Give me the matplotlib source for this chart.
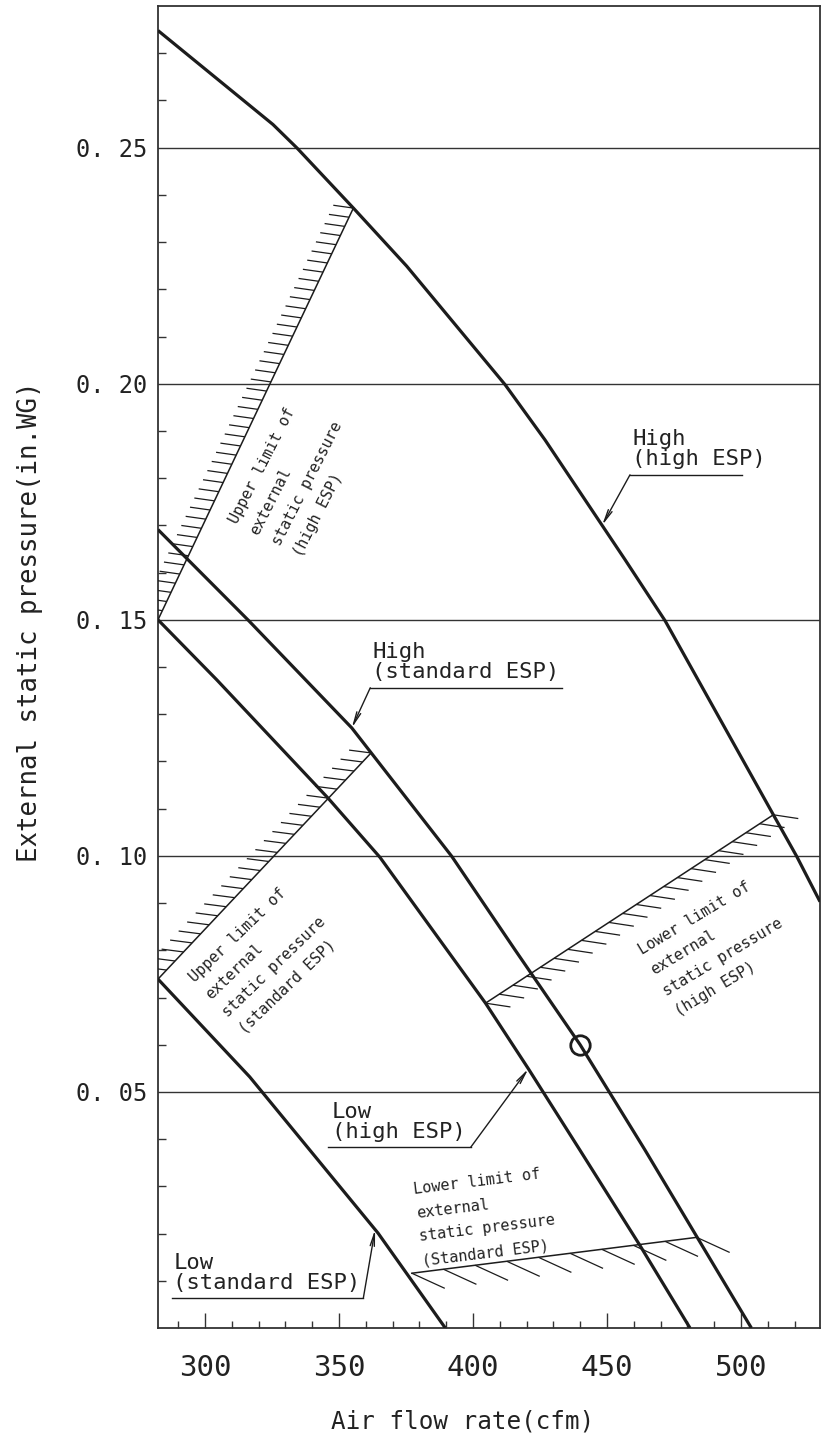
import numpy as np
import matplotlib.pyplot as plt
from matplotlib.collections import LineCollection

plt.rcParams['font.family'] = ['DejaVu Sans Mono']

# fan curves: air flow (cfm) against external static pressure (in.WG)
hi_hi_x = [282.5, 325.4, 334.4, 355.4, 375.3, 412.0, 426.9, 456.8, 471.7, 512.1, 520.8, 529.5]
hi_hi_y = [0.2748, 0.2549, 0.2499, 0.2372, 0.2249, 0.1998, 0.1881, 0.1627, 0.1498, 0.1087, 0.0999, 0.0903]

hi_std_x = [282.5, 316.2, 354.8, 392.1, 415.7, 440.0, 464.2, 503.9]
hi_std_y = [0.1691, 0.1499, 0.1271, 0.0999, 0.0801, 0.0600, 0.0377, 0.0]

lo_hi_x = [282.5, 304.4, 346.0, 365.3, 404.7, 420.7, 439.9, 462.3, 481.0]
lo_hi_y = [0.1500, 0.1373, 0.1122, 0.0997, 0.0688, 0.0549, 0.0377, 0.0175, 0.0]

lo_std_x = [282.5, 316.7, 364.6, 389.7]
lo_std_y = [0.0739, 0.0532, 0.0201, 0.0]

# limit lines (start, end)
up_hi_lim = [(282.5, 0.1500), (355.4, 0.2372)]
up_std_lim = [(282.5, 0.0739), (362.0, 0.1218)]
lo_hi_lim = [(404.7, 0.0688), (512.1, 0.1087)]
lo_std_lim = [(377.2, 0.0116), (483.5, 0.0192)]

op_point = (440, 0.06)

x_ticks = [300, 350, 400, 450, 500]
y_ticks = [0.05, 0.10, 0.15, 0.20, 0.25]
y_labels = ['0. 05', '0. 10', '0. 15', '0. 20', '0. 25']

ink = '#1c1c1c'

fig = plt.figure(figsize=(8.22, 14.46), dpi=100)
ax = fig.add_axes([158 / 822, 118 / 1446, 662 / 822, 1322 / 1446])
ax.set_xlim(282.5, 529.5)
ax.set_ylim(0, 0.28)

for s in ax.spines.values():
    s.set_linewidth(1.3)
    s.set_color('#333333')

for v in y_ticks:
    ax.axhline(v, color='#333333', lw=1.0, zorder=1)

ax.set_xticks(x_ticks)
ax.set_xticks(np.arange(290, 521, 10), minor=True)
ax.set_yticks(y_ticks)
ax.set_yticklabels(y_labels)
ax.set_yticks(np.arange(0.01, 0.28, 0.01), minor=True)
ax.tick_params(axis='x', which='major', direction='in', length=11, width=1.0,
               pad=19, labelsize=21, colors='#333333', labelcolor='#222222')
ax.tick_params(axis='x', which='minor', direction='in', length=5, width=1.0, colors='#333333')
ax.tick_params(axis='y', which='major', direction='in', length=0, pad=8,
               labelsize=17, labelcolor='#222222')
ax.tick_params(axis='y', which='minor', direction='in', length=6, width=1.0, colors='#333333')

for xs, ys in [(hi_hi_x, hi_hi_y), (hi_std_x, hi_std_y), (lo_hi_x, lo_hi_y), (lo_std_x, lo_std_y)]:
    ax.plot(xs, ys, color=ink, lw=2.3, solid_capstyle='butt', solid_joinstyle='round', zorder=3)


def hatch_line(p0, p1, n, off):
    (x0, y0), (x1, y1) = p0, p1
    ax.plot([x0, x1], [y0, y1], color=ink, lw=1.1, zorder=3)
    t = np.linspace(0, 1, n)
    px = x0 + t * (x1 - x0)
    py = y0 + t * (y1 - y0)
    segs = [[(a, b), (a + off[0], b + off[1])] for a, b in zip(px, py)]
    ax.add_collection(LineCollection(segs, colors=ink, linewidths=0.9, zorder=3))


hatch_line(*up_hi_lim, 46, (-7.5, 0.0006))
hatch_line(*up_std_lim, 26, (-8.2, 0.0006))
hatch_line(*lo_hi_lim, 22, (9.3, -0.0008))
hatch_line(*lo_std_lim, 10, (12.3, -0.0032))

ax.plot(*op_point, 'o', ms=14, mfc='none', mec=ink, mew=2.0, zorder=4)


def callout(lines, x_text, y_line, x0, x1, corner, tip_x, cx, cy):
    ax.text(x_text, y_line + 0.0012, lines, fontsize=16, color='#222222',
            ha='left', va='bottom', linespacing=1.0)
    ax.plot([x0, x1], [y_line, y_line], color=ink, lw=1.0)
    tip = (tip_x, float(np.interp(tip_x, cx, cy)))
    ax.annotate('', xy=tip, xytext=corner,
                arrowprops=dict(arrowstyle='->,head_length=0.9,head_width=0.15',
                                color=ink, lw=1.0, shrinkA=0, shrinkB=0))


callout('High\n(high ESP)', 459.5, 0.1807, 458.6, 500.4, (458.6, 0.1807), 448.2, hi_hi_x, hi_hi_y)
callout('High\n(standard ESP)', 362.4, 0.1356, 361.7, 433.2, (361.7, 0.1356), 354.8, hi_std_x, hi_std_y)
callout('Low\n(high ESP)', 347.3, 0.0383, 346.0, 399.2, (399.2, 0.0383), 420.7, lo_hi_x, lo_hi_y)
callout('Low\n(standard ESP)', 288.2, 0.0063, 287.6, 359.1, (359.1, 0.0063), 363.5, lo_std_x, lo_std_y)

# rotated notes, anchored at the start of their last line
rot_kw = dict(fontsize=11, color='#222222', ha='left', va='baseline',
              rotation_mode='anchor', linespacing=1.75)
ax.text(333.0, 0.1641, 'Upper limit of\nexternal\nstatic pressure\n(high ESP)', rotation=63, **rot_kw)
ax.text(312.5, 0.0635, 'Upper limit of\nexternal\nstatic pressure\n(standard ESP)', rotation=44, **rot_kw)
ax.text(475.1, 0.0676, 'Lower limit of\nexternal\nstatic pressure\n(high ESP)', rotation=31, **rot_kw)
ax.text(380.9, 0.0152, 'Lower limit of\nexternal\nstatic pressure\n(Standard ESP)', rotation=7, **rot_kw)

fig.text(463 / 822, 1 - 1422 / 1446, 'Air flow rate(cfm)', fontsize=17.5,
         ha='center', va='center', color='#222222')
fig.text(30 / 822, 1 - 622 / 1446, 'External static pressure(in.WG)', fontsize=18.5,
         ha='center', va='center', rotation=90, color='#222222')

fig.savefig('out.png', dpi=100, facecolor='white')
